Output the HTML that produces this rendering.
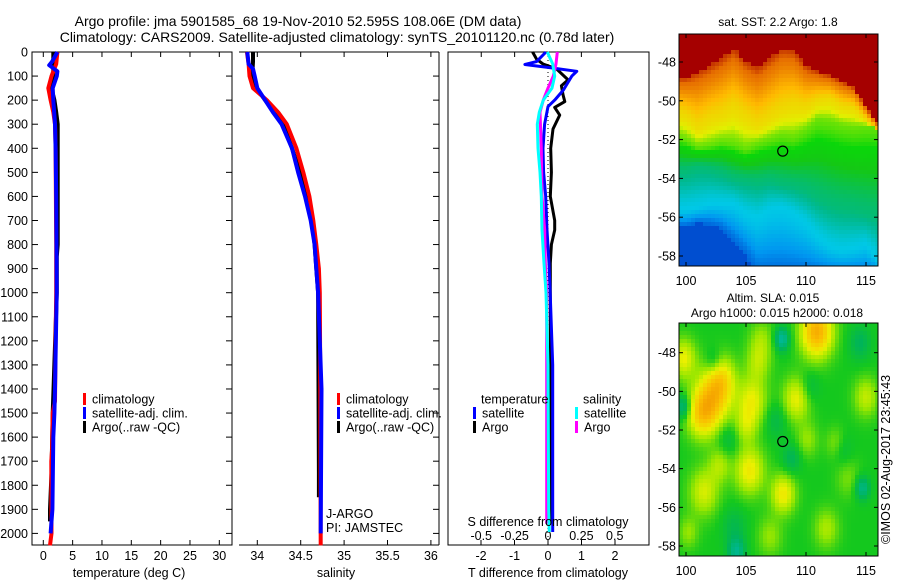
<!DOCTYPE html>
<html><head><meta charset="utf-8"><style>
html,body{margin:0;padding:0;background:#fff}
svg{display:block;font-family:"Liberation Sans",sans-serif;font-size:13px}
</style></head><body>
<svg id="chart" width="900" height="580" viewBox="0 0 900 580" xmlns="http://www.w3.org/2000/svg">
<text x="298" y="26" text-anchor="middle" font-size="14">Argo profile: jma 5901585_68 19-Nov-2010 52.595S 108.06E (DM data)</text>
<text x="337" y="42" text-anchor="middle" font-size="14">Climatology: CARS2009. Satellite-adjusted climatology: synTS_20101120.nc (0.78d later)</text>
<g id="g1"></g><g id="g2"></g><g id="g3"></g><g id="m1"></g><g id="m2"></g>
<text transform="translate(890,544) rotate(-90)" font-size="12.5">©IMOS 02-Aug-2017 23:45:43</text>
</svg>
<script>
// ---- data ----
const tDepthClim=[0,50,100,150,200,250,300,400,600,800,1000,1200,1450,1500,1650,1700,2000,2050];
const tClim=[2.4,2.2,1.4,0.85,1.25,1.7,2.0,2.1,2.15,2.2,2.2,2.1,2.0,1.6,1.5,1.37,1.4,1.15];
const tDepthSat=[0,40,55,80,100,150,200,300,400,600,800,1000,1400,1500,1600,1800,1900,1950,2000];
const tSat=[2.4,1.5,1.0,2.4,2.3,1.6,1.7,2.0,2.1,2.2,2.25,2.28,2.0,1.9,1.7,1.6,1.55,1.4,1.25];
const tDepthArgo=[0,100,150,200,250,300,500,800,850,1000,1500,1750,1900,1950];
const tArgo=[1.7,1.7,1.4,1.9,2.2,2.45,2.45,2.45,2.3,2.3,1.6,1.4,1.15,1.15];
const sDepthClim=[0,50,100,150,200,250,300,400,500,600,700,800,900,1000,1400,2050];
const sClim=[33.88,33.9,33.91,33.95,34.11,34.24,34.34,34.45,34.53,34.60,34.645,34.68,34.71,34.72,34.726,34.73];
const sDepthSat=[0,50,70,100,150,200,250,300,400,500,600,700,800,900,1000,1400,2000];
const sSat=[33.885,33.9,33.95,33.97,34.0,34.09,34.18,34.28,34.40,34.47,34.55,34.615,34.66,34.68,34.70,34.74,34.73];
const sDepthArgo=[0,40,100,150,200,300,400,500,600,700,800,900,1000,1750,1850];
const sArgo=[33.95,33.95,33.94,33.99,34.09,34.3,34.4,34.49,34.56,34.63,34.66,34.68,34.70,34.71,34.71];
const dDepthTSat=[0,40,52,65,80,100,158,200,227,300,400,500,600,740,878,1016,1300,1994];
const dTSat=[-0.06,-0.34,-0.69,0.05,0.86,0.71,0.46,0.2,0.0,-0.1,-0.15,-0.13,-0.07,-0.03,0.03,0.07,0.14,0.14];
const dDepthTArgo=[0,30,50,70,116,140,179,206,230,262,320,400,500,600,700,740,800,878,1000,1950];
const dTArgo=[-0.46,-0.34,-0.15,0.25,0.6,0.4,0.45,0.5,0.2,0.35,0.15,0.08,0.1,0.07,0.2,0.2,0.1,0.07,0.07,0.08];
const dDepthSSat=[0,50,100,150,200,250,300,400,500,600,740,878,1000,1300,1900,1994];
const dSSat=[-0.005,0.035,0.05,0.03,-0.035,-0.065,-0.08,-0.075,-0.06,-0.05,-0.045,-0.03,-0.015,0.0,0.005,0.01];
const dDepthSArgo=[0,50,100,150,200,250,400,600,740,878,1000,1960];
const dSArgo=[0.07,0.06,0.04,0.0,-0.035,-0.06,-0.05,-0.045,-0.025,-0.02,-0.01,-0.01];
const depthTicks=[0,100,200,300,400,500,600,700,800,900,1000,1100,1200,1300,1400,1500,1600,1700,1800,1900,2000];
const tempTicks=[0,5,10,15,20,25,30];
const salTicks=[34,34.5,35,35.5,36];
const tDiffTicks=[-2,-1,0,1,2];
const sDiffTicks=[-0.5,-0.25,0,0.25,0.5];
const lonTicks=[100,105,110,115];
const latTicks=[-48,-50,-52,-54,-56,-58];
const argoLon=108.06, argoLat=-52.595;
const sstLons=[99,100,101,102,103,104,105,106,107,108,109,110,111,112,113,114,115,116,117];
const bRed=[-48.8,-48.8,-48.5,-48.2,-47.8,-47.3,-48.0,-48.3,-47.8,-47.3,-47.4,-48.2,-48.5,-48.7,-49.0,-49.3,-50.3,-51.2,-51.3];
const bOrange=[-50.6,-50.8,-51.4,-51.0,-50.8,-50.4,-50.9,-51.3,-50.9,-50.5,-50.3,-50.4,-50.0,-49.9,-50.3,-50.4,-51.0,-51.6,-51.6];
const bYellow=[-51.8,-52.0,-52.4,-52.3,-52.1,-52.2,-52.5,-52.2,-52.0,-51.8,-51.9,-51.5,-51.0,-51.1,-51.3,-51.4,-51.3,-51.3,-51.3];
const bGreen=[-53.6,-53.6,-53.4,-53.5,-53.7,-54.0,-54.1,-54.2,-54.1,-54.3,-54.4,-54.6,-55.0,-55.3,-55.5,-55.6,-55.8,-56.0,-56.0];
const bTeal=[-55.6,-55.6,-55.5,-55.3,-55.3,-55.3,-55.8,-56.0,-55.6,-55.5,-55.8,-56.3,-57.0,-57.5,-57.7,-57.6,-57.4,-58.2,-58.2];
const bBlue=[-56.5,-56.5,-56.3,-56.4,-56.6,-57.3,-58.0,-59,-59,-59,-59,-59,-59,-59,-59,-59,-59,-59,-59];
const slaLon=[110.9,102.3,101.3,103,99.8,105.5,106,105,109.2,105.3,108.1,101.5,102.8,115,110.1,111.7,108,99.8,114.7,104.2,102.3,110.3,108.8,113,107,104,112.5,114.5,100.2,106.3,103.5,113.5,107.5];
const slaLat=[-46.9,-50.3,-51.2,-49.3,-48.3,-50.5,-48.5,-51.8,-50.4,-54.1,-55.3,-55.2,-53.8,-50.3,-52.5,-57.1,-47.3,-50.8,-55.0,-58.3,-48.5,-49.8,-53.5,-53,-57.5,-57,-52.7,-47.5,-57.3,-47.3,-52.5,-54.5,-51.5];
const slaRad=[1.3,1.5,1.2,1.1,1.0,1.2,1.0,0.9,1.1,1.2,1.0,1.2,0.9,1.0,0.9,1.0,0.6,0.6,0.6,0.7,0.7,0.8,0.8,0.8,1.0,1.0,0.8,0.9,0.8,1.0,0.9,1.0,0.9];
const slaVal=[0.82,0.74,0.70,0.64,0.66,0.66,0.60,0.60,0.66,0.68,0.68,0.64,0.60,0.62,0.58,0.6,0.32,0.35,0.35,0.35,0.42,0.44,0.42,0.44,0.58,0.44,0.58,0.42,0.58,0.58,0.44,0.56,0.44];

// ---- helpers ----
const NS='http://www.w3.org/2000/svg';
function el(tag,attrs,parent){const e=document.createElementNS(NS,tag);for(const k in attrs)e.setAttribute(k,attrs[k]);parent.appendChild(e);return e;}
function txt(s,x,y,anchor,parent,size){const t=el('text',{x:x,y:y,'text-anchor':anchor||'start'},parent);if(size)t.setAttribute('font-size',size);t.textContent=s;return t;}
const yDepth=d=>52+d*0.2407;
const xTemp=v=>43.3+v*5.867;
const xSal=v=>257.3+(v-34)*86.8;
const xTD=v=>548+v*33.5;
const xSD=v=>548+v*133.5;
const FS=12.5;
function profile(g,depths,vals,xf,color,w,name){
  let pts=[];
  for(let i=0;i<depths.length;i++){
    pts.push(xf(vals[i]).toFixed(1)+','+yDepth(depths[i]).toFixed(1));
  }
  const p=el('polyline',{points:pts.join(' '),fill:'none',stroke:color,'stroke-width':w,'stroke-linejoin':'round'},g);
  
  
}
function legend(g,x,y,color,label,name){
  const r=el('rect',{x:x,y:y-6,width:3,height:12,fill:color},g);
  
  
  const t=txt(label,x+9,y+4.5,'start',g,FS);
  
  
}
const T=52,B=545;
// ---- panel 1 ----
const g1=document.getElementById('g1');


el('rect',{x:32,y:T,width:200,height:B-T,fill:'none',stroke:'#000','stroke-width':1},g1);
depthTicks.forEach(d=>{const y=yDepth(d);
  el('line',{x1:32,x2:38,y1:y,y2:y,stroke:'#000'},g1);el('line',{x1:226,x2:232,y1:y,y2:y,stroke:'#000'},g1);
  const t=txt(String(d),28,y+4.5,'end',g1,FS);
  
  });
tempTicks.forEach(v=>{const x=xTemp(v);
  el('line',{x1:x,x2:x,y1:T,y2:T+5,stroke:'#000'},g1);el('line',{x1:x,x2:x,y1:B-5,y2:B,stroke:'#000'},g1);
  const t=txt(String(v),x,560,'middle',g1,FS);
  
  });
let t1=txt('temperature (deg C)',129,577,'middle',g1,FS);


profile(g1,tDepthArgo,tArgo,xTemp,'#000',4,'temperature-argo-line');
profile(g1,tDepthClim,tClim,xTemp,'#f00',4,'temperature-climatology-line');
profile(g1,tDepthSat,tSat,xTemp,'#00f',4,'temperature-satellite-line');
legend(g1,83,399,'#f00','climatology','legend-climatology');
legend(g1,83,413,'#00f','satellite-adj. clim.','legend-satellite');
legend(g1,83,427,'#000','Argo(..raw -QC)','legend-argo');
// ---- panel 2 ----
const g2=document.getElementById('g2');


el('line',{x1:239,x2:439,y1:T,y2:T,stroke:'#000'},g2);el('line',{x1:239,x2:439,y1:B,y2:B,stroke:'#000'},g2);
el('line',{x1:439,x2:439,y1:T,y2:B,stroke:'#000'},g2);
depthTicks.forEach(d=>{const y=yDepth(d);el('line',{x1:433,x2:439,y1:y,y2:y,stroke:'#000'},g2);});
salTicks.forEach(v=>{const x=xSal(v);
  el('line',{x1:x,x2:x,y1:T,y2:T+5,stroke:'#000'},g2);el('line',{x1:x,x2:x,y1:B-5,y2:B,stroke:'#000'},g2);
  const t=txt(String(v),x,560,'middle',g2,FS);
  
  });
let t2=txt('salinity',336,577,'middle',g2,FS);


profile(g2,sDepthArgo,sArgo,xSal,'#000',4,'salinity-argo-line');
profile(g2,sDepthClim,sClim,xSal,'#f00',4,'salinity-climatology-line');
profile(g2,sDepthSat,sSat,xSal,'#00f',4,'salinity-satellite-line');
legend(g2,337,399,'#f00','climatology','legend-climatology');
legend(g2,337,413,'#00f','satellite-adj. clim.','legend-satellite');
legend(g2,337,427,'#000','Argo(..raw -QC)','legend-argo');
let j1=txt('J-ARGO',326,518,'start',g2,FS);
let j2=txt('PI: JAMSTEC',326,532,'start',g2,FS);
// ---- panel 3 ----
const g3=document.getElementById('g3');


el('rect',{x:448,y:T,width:201,height:B-T,fill:'none',stroke:'#000'},g3);
sDiffTicks.forEach(v=>{const x=xSD(v);el('line',{x1:x,x2:x,y1:T,y2:T+5,stroke:'#000'},g3);
  const t=txt(String(v),x,540,'middle',g3,FS);
  
  });
tDiffTicks.forEach(v=>{const x=xTD(v);el('line',{x1:x,x2:x,y1:B-5,y2:B,stroke:'#000'},g3);
  const t=txt(String(v),x,560,'middle',g3,FS);
  
  });
el('line',{x1:xTD(0),x2:xTD(0),y1:T,y2:B,stroke:'#000','stroke-dasharray':'1,3'},g3);
profile(g3,dDepthTArgo,dTArgo,xTD,'#000',3,'t-diff-argo-line');
profile(g3,dDepthTSat,dTSat,xTD,'#00f',3,'t-diff-satellite-line');
profile(g3,dDepthSArgo,dSArgo,xSD,'#f0f',3,'s-diff-argo-line');
profile(g3,dDepthSSat,dSSat,xSD,'#0ff',3,'s-diff-satellite-line');
let tl=txt('temperature',481,403.5,'start',g3,FS);
let sl=txt('salinity',583,403.5,'start',g3,FS);
legend(g3,473,413,'#00f','satellite','legend-t-satellite');
legend(g3,473,427,'#000','Argo','legend-t-argo');
legend(g3,575,413,'#0ff','satellite','legend-s-satellite');
legend(g3,575,427,'#f0f','Argo','legend-s-argo');
let st=txt('S difference from climatology',548,526,'middle',g3,FS);
let tt=txt('T difference from climatology',548,577,'middle',g3,FS);
// ---- maps ----
function lerp(a,b,t){return a+(b-a)*t}
function cmap(stops,v){
  if(v<=stops[0][0])return stops[0][1];
  for(let i=1;i<stops.length;i++){if(v<=stops[i][0]){const t=(v-stops[i-1][0])/(stops[i][0]-stops[i-1][0]);const a=stops[i-1][1],b=stops[i][1];return [0,1,2].map(k=>Math.round(lerp(a[k],b[k],t)));}}
  return stops[stops.length-1][1];
}
const sstStops=[[0.1,[0,60,200]],[0.2,[0,150,240]],[0.3,[0,200,230]],[0.4,[0,185,140]],[0.5,[20,200,20]],[0.55,[10,215,10]],[0.62,[225,240,0]],[0.72,[255,185,0]],[0.84,[230,110,0]],[0.88,[165,0,0]],[1,[165,0,0]]];
const slaStops=[[0.3,[0,185,170]],[0.42,[0,180,90]],[0.5,[20,200,30]],[0.58,[150,230,0]],[0.66,[235,240,0]],[0.78,[250,190,0]],[0.9,[240,140,0]]];
function interpB(arr,lon){const i=Math.max(0,Math.min(sstLons.length-2,Math.floor(lon-99)));const t=lon-sstLons[i];return lerp(arr[i],arr[i+1],t);}
function sstField(lon,lat){
  const bs=[interpB(bRed,lon),interpB(bOrange,lon),interpB(bYellow,lon),interpB(bGreen,lon),interpB(bTeal,lon),interpB(bBlue,lon)];
  const vs=[0.86,0.66,0.58,0.42,0.3,0.15];
  if(lat>=bs[0])return 1;
  for(let i=1;i<bs.length;i++){if(lat>=bs[i]){const t=(bs[i-1]-lat)/(bs[i-1]-bs[i]);return lerp(vs[i-1],vs[i],t*t*(3-2*t)*0.6+t*0.4);}}
  return 0.12;
}
function slaField(lon,lat){
  let v=0.5;
  for(let i=0;i<slaLon.length;i++){const dx=(lon-slaLon[i])/slaRad[i],dy=(lat-slaLat[i])/slaRad[i];v+=(slaVal[i]-0.5)*Math.exp(-(dx*dx+dy*dy));}
  return v;
}
function drawMap(gid,name,top,bottom,yAt48,yAt58,fn,stops,labelY,titles){
  const g=document.getElementById(gid);
  
  
  const L=679,R=878;
  const xLon=lon=>686+(lon-100)*12;
  const yLat=lat=>yAt48+(-48-lat)*(yAt58-yAt48)/10;
  const lonAt=x=>100+(x-686)/12, latAt=y=>-48-(y-yAt48)*10/(yAt58-yAt48);
  const c=4;
  for(let y=top;y<bottom;y+=c){for(let x=L;x<R;x+=c){
    const col=cmap(stops,fn(lonAt(x+c/2),latAt(y+c/2)));
    el('rect',{x:x,y:y,width:Math.min(c,R-x),height:Math.min(c,bottom-y),fill:'rgb('+col.join(',')+')'},g);}}
  el('rect',{x:L,y:top,width:R-L,height:bottom-top,fill:'none',stroke:'#000'},g);
  lonTicks.forEach(v=>{const x=xLon(v);el('line',{x1:x,x2:x,y1:top,y2:top+4,stroke:'#000'},g);el('line',{x1:x,x2:x,y1:bottom-4,y2:bottom,stroke:'#000'},g);
    const t=txt(String(v),x,labelY,'middle',g,FS);
    
    });
  latTicks.forEach(v=>{const y=yLat(v);el('line',{x1:L,x2:L+4,y1:y,y2:y,stroke:'#000'},g);el('line',{x1:R-4,x2:R,y1:y,y2:y,stroke:'#000'},g);
    const t=txt(String(v),676,y+4.5,'end',g,FS);
    
    });
  const m=el('circle',{cx:xLon(argoLon),cy:yLat(argoLat),r:5,fill:'none',stroke:'#000','stroke-width':1.2},g);
  
  
  titles.forEach(tt=>{const t=txt(tt[0],tt[1],tt[2],'middle',g,12);
    
    });
}
drawMap('m1','sst-map',34,266,62,256,sstField,sstStops,285,[['sat. SST: 2.2 Argo: 1.8',778,26]]);
drawMap('m2','sla-map',323,556,352.7,546,slaField,slaStops,575,[['Altim. SLA: 0.015',773,302],['Argo h1000: 0.015 h2000: 0.018',777,317]]);
</script>
</body></html>
